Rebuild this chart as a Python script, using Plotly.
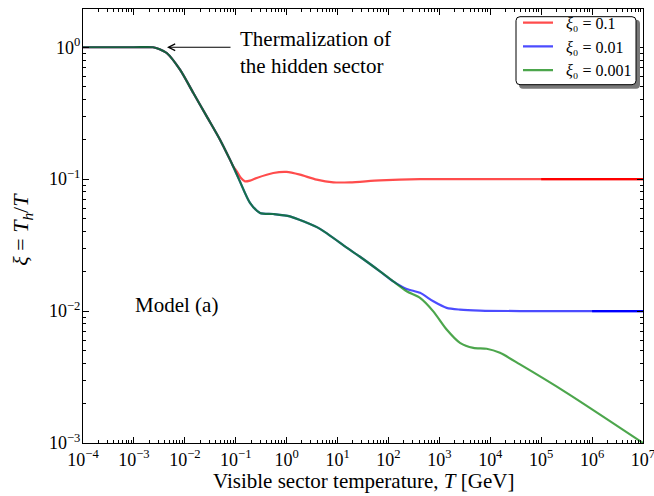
import plotly.graph_objects as go

# ---- data ----
T_shared = [1e-4, 1e-3, 2.37e-3, 3.2e-3, 4.41e-3, 8.04e-3, 1.47e-2, 2.69e-2, 4.91e-2, 7.71e-2, 8.83e-2]
xi_shared = [1.0, 1.0, 1.0, 0.966, 0.904, 0.676, 0.450, 0.299, 0.199, 0.1406, 0.1259]

T_red_tail = [0.106, 0.1268, 0.152, 0.1905, 0.258, 0.547, 1.0, 1.83, 3.89, 8.26, 17.5, 68.2, 417, 1e5, 1e7]
xi_red_tail = [0.114, 0.1019, 0.0962, 0.0975, 0.1021, 0.1114, 0.1135, 0.1081, 0.0991, 0.0946, 0.0946, 0.0979, 0.1, 0.1, 0.1]

T_low_mid = [0.1213, 0.1905, 0.300, 0.547, 1.16, 2.12, 4.52, 15.1, 27.6, 68.2, 124]
xi_low_mid = [0.0957, 0.0661, 0.0555, 0.0544, 0.0522, 0.0479, 0.0420, 0.0303, 0.0258, 0.0200, 0.0168]

T_blue_tail = [228, 417, 760, 1390, 2540, 6280, 38400, 1e7]
xi_blue_tail = [0.01472, 0.01374, 0.01186, 0.01057, 0.01026, 0.01009, 0.01, 0.01]

T_green_tail = [228, 417, 760, 1390, 2540, 4650, 8510, 15500, 38400, 317000, 1e7]
xi_green_tail = [0.01413, 0.01259, 0.00995, 0.00724, 0.00574, 0.00526, 0.00518, 0.00482, 0.00394, 0.00240, 0.001]

T_red_late = [1e5, 1e7]
xi_red_late = [0.1, 0.1]
T_blue_late = [1e6, 1e7]
xi_blue_late = [0.01, 0.01]

series_names = ["\u2002<i>ξ</i>₀ = 0.1", "\u2002<i>ξ</i>₀ = 0.01", "\u2002<i>ξ</i>₀ = 0.001"]
x_exponents = list(range(-4, 8))
y_exponents = list(range(-3, 1))

FONT = "Liberation Serif"

# plot-area pixel geometry (for paper-coordinate decorations)
L, R, TOP, BOT = 83, 643, 9.3, 443.3


def px(xp):
    return (xp - L) / (R - L)


def py(yp):
    return (BOT - yp) / (BOT - TOP)


def sup_label(e):
    return "10<sup>" + str(e).replace("-", "−") + "</sup>"


def rounded_rect(x0, y0, x1, y1, r):
    pts = [
        f"M {px(x0 + r)},{py(y0)}", f"L {px(x1 - r)},{py(y0)}",
        f"Q {px(x1)},{py(y0)} {px(x1)},{py(y0 + r)}", f"L {px(x1)},{py(y1 - r)}",
        f"Q {px(x1)},{py(y1)} {px(x1 - r)},{py(y1)}", f"L {px(x0 + r)},{py(y1)}",
        f"Q {px(x0)},{py(y1)} {px(x0)},{py(y1 - r)}", f"L {px(x0)},{py(y0 + r)}",
        f"Q {px(x0)},{py(y0)} {px(x0 + r)},{py(y0)}", "Z",
    ]
    return " ".join(pts)


fig = go.Figure()
series = [
    (T_shared + T_red_tail, xi_shared + xi_red_tail, "rgba(255,0,0,0.7)", series_names[0]),
    (T_shared + T_low_mid + T_blue_tail, xi_shared + xi_low_mid + xi_blue_tail, "rgba(0,0,255,0.7)", series_names[1]),
    (T_shared + T_low_mid + T_green_tail, xi_shared + xi_low_mid + xi_green_tail, "rgba(0,128,0,0.7)", series_names[2]),
]
for xs, ys, col, name in series:
    fig.add_trace(go.Scatter(x=xs, y=ys, mode="lines", name=name,
                             line=dict(color=col, width=2.2, shape="spline", smoothing=0.7)))
fig.add_trace(go.Scatter(x=T_red_late, y=xi_red_late, mode="lines", showlegend=False,
                         line=dict(color="rgb(255,0,0)", width=2.2)))
fig.add_trace(go.Scatter(x=T_blue_late, y=xi_blue_late, mode="lines", showlegend=False,
                         line=dict(color="rgb(0,0,255)", width=2.2)))

minor_x = [m * 10.0 ** e for e in range(-4, 7) for m in range(2, 10)]
minor_y = [m * 10.0 ** e for e in range(-3, 1) for m in range(2, 10)]

axis_common = dict(type="log", showline=True, linecolor="black", linewidth=1, mirror="allticks",
                   ticks="inside", ticklen=6, tickwidth=1, tickcolor="black", showgrid=False,
                   zeroline=False, ticklabeloverflow="allow", automargin=False,
                   tickfont=dict(family=FONT, size=18, color="black"))

fig.update_layout(
    width=654, height=496,
    margin=dict(l=L, r=654 - R, t=TOP, b=496 - BOT, autoexpand=False),
    plot_bgcolor="white", paper_bgcolor="white",
    font=dict(family=FONT, color="black"),
    xaxis=dict(range=[-4.0003, 7.0003], tickmode="array",
               tickvals=[10.0 ** e for e in x_exponents],
               ticktext=[sup_label(e) for e in x_exponents],
               minor=dict(tickmode="array", tickvals=minor_x, ticks="inside", ticklen=3,
                          tickcolor="black", showgrid=False),
               **axis_common),
    yaxis=dict(range=[-3.0003, 0.29], tickmode="array",
               tickvals=[10.0 ** e for e in y_exponents],
               ticktext=[sup_label(e) for e in y_exponents],
               ticklabelstandoff=-2,
               minor=dict(tickmode="array", tickvals=minor_y, ticks="inside", ticklen=3,
                          tickcolor="black", showgrid=False),
               **axis_common),
    legend=dict(x=px(518), y=py(6), xanchor="left", yanchor="top",
                bgcolor="rgba(0,0,0,0)", borderwidth=0,
                font=dict(family=FONT, size=16, color="black"), itemwidth=30,
                tracegroupgap=0),
    showlegend=True,
)

# legend frame with shadow (rounded)
fig.add_shape(type="path", xref="paper", yref="paper", path=rounded_rect(519, 20, 640, 89, 4),
              fillcolor="rgb(120,120,120)", line=dict(width=0), layer="above")
fig.add_shape(type="path", xref="paper", yref="paper", path=rounded_rect(516, 17, 636, 85, 4),
              fillcolor="white", line=dict(width=1, color="black"), layer="above")

fig.add_annotation(x=-0.955, y=-0.042, xref="x", yref="y", xanchor="left", yanchor="middle",
                   text="Thermalization of<br>the hidden sector", showarrow=False, align="left",
                   font=dict(family=FONT, size=21, color="black"))
fig.add_annotation(x=-2.35, y=0, xref="x", yref="y", ax=-1.073, ay=0, axref="x", ayref="y",
                   text="", showarrow=True, arrowhead=5, arrowsize=1.2, arrowwidth=1.1,
                   arrowcolor="black", standoff=0)
fig.add_annotation(x=-3.018, y=-1.951, xref="x", yref="y", xanchor="left", yanchor="middle",
                   text="Model (a)", showarrow=False, font=dict(family=FONT, size=21, color="black"))
fig.add_annotation(x=0.5, y=py(481), xref="paper", yref="paper", xanchor="center",
                   yanchor="middle", text="Visible sector temperature, <i>T</i> [GeV]", showarrow=False,
                   font=dict(family=FONT, size=21, color="black"))
fig.add_annotation(x=px(22), y=py(230), xref="paper", yref="paper",
                   xanchor="center", yanchor="middle", textangle=-90,
                   text="<i>ξ</i> = <i>T<sub>h</sub></i>/<i>T</i>", showarrow=False,
                   font=dict(family=FONT, size=22, color="black"))

fig.write_html("out.html")
